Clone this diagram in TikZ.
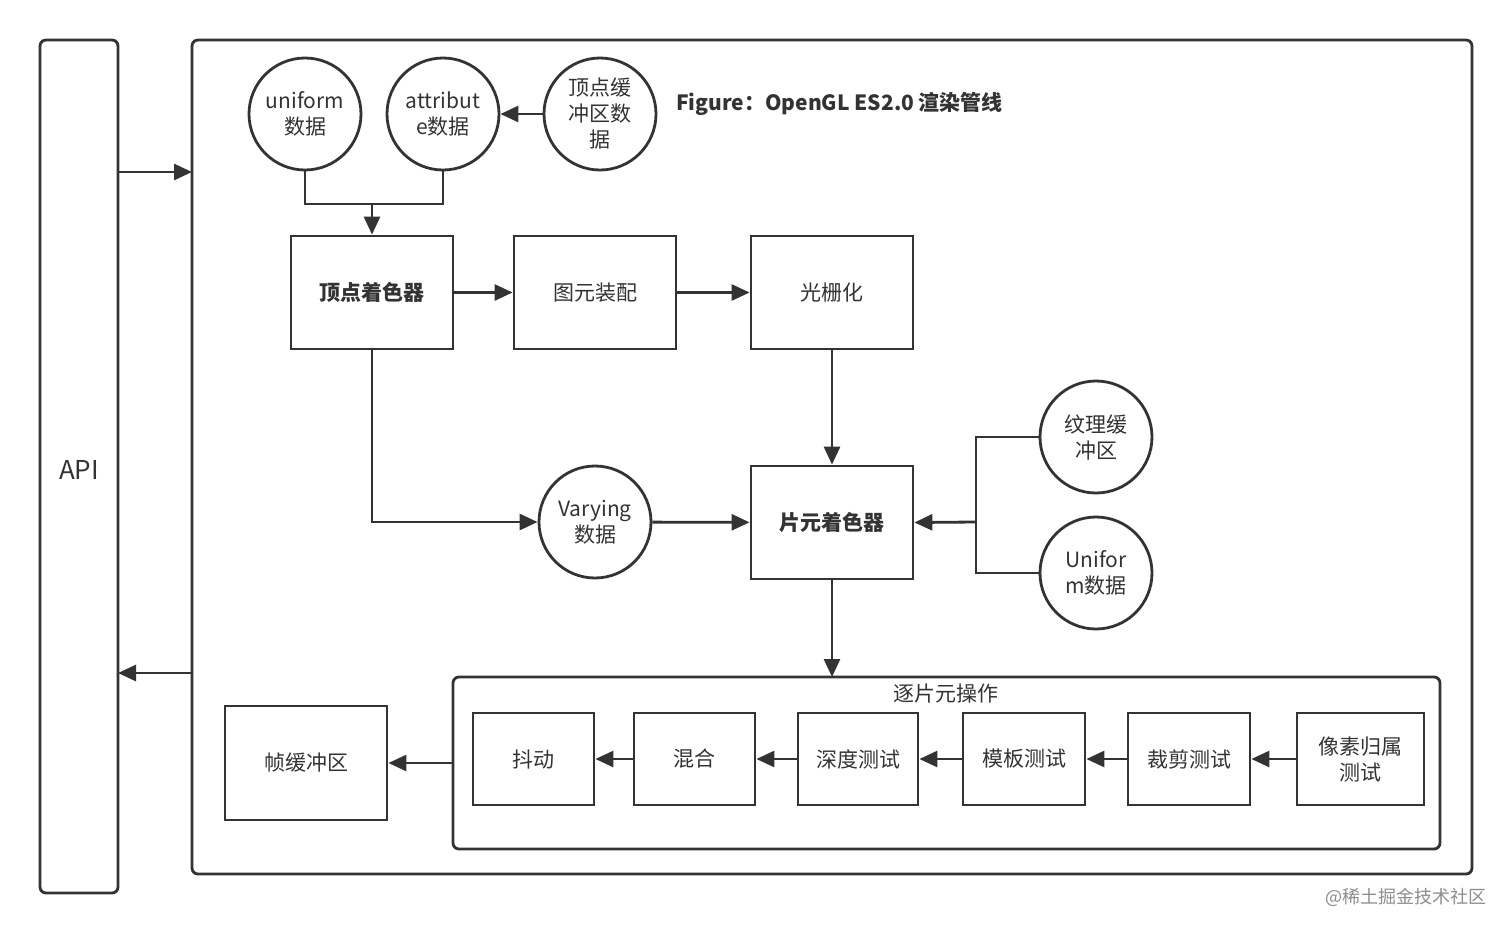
\documentclass[tikz,border=0pt]{standalone}
\usepackage{fontspec}
\setmainfont{Noto Sans CJK SC}
\usetikzlibrary{arrows.meta}
\definecolor{ln}{HTML}{333333}
\begin{document}
\begin{tikzpicture}[x=0.5pt,y=-0.5pt,line width=1.4pt,draw=ln,
  box/.style={draw=ln,line width=1.4pt,font=\fontsize{10.5}{12}\selectfont,text=ln},
  circ/.style={draw=ln,circle,line width=1.4pt,minimum size=56pt,inner sep=0pt,align=center,font=\fontsize{10.5}{13}\selectfont,text=ln},
  arr/.style={draw=ln,-{Triangle[length=9pt,width=8pt]},line width=1.4pt}]
\path[use as bounding box] (0,0) rectangle (1512,933);
\draw[draw=ln,rounded corners=3pt] (40,40) rectangle (118,893);
\node[font=\fontsize{13}{15}\selectfont,text=ln] (api) at (79,470) {API};
\draw[draw=ln,rounded corners=3pt] (192,40) rectangle (1472,874);
\coordinate (a1) at (118,172); \coordinate (a2) at (192,172);
\coordinate (b1) at (192,673); \coordinate (b2) at (118,673);
\draw[arr] (a1) -- (a2);
\draw[arr] (b1) -- (b2);
\node[circ] (uni) at (305,114) {uniform\\数据};
\node[circ] (att) at (443,114) {attribut\\e数据};
\node[circ] (vbuf) at (600,114) {顶点缓\\冲区数\\据};
\draw[arr] (vbuf) -- (att);
\node[anchor=west,font=\fontsize{10.5}{12}\selectfont\bfseries,text=ln] (title) at (668,104) {Figure：OpenGL ES2.0 渲染管线};
\node[box,minimum width=81pt,minimum height=56.5pt,font=\fontsize{10.5}{12}\selectfont\bfseries] (vs) at (372,292.5) {顶点着色器};
\node[box,minimum width=81pt,minimum height=56.5pt] (prim) at (595,292.5) {图元装配};
\node[box,minimum width=81pt,minimum height=56.5pt] (rast) at (832,292.5) {光栅化};
\coordinate (j) at (372,204);
\draw[draw=ln] (uni.south) |- (j) -| (att.south);
\draw[arr] (j) -- (vs.north);
\draw[arr] (vs) -- (prim);
\draw[arr] (prim) -- (rast);
\node[circ] (var) at (595,522) {Varying\\数据};
\node[box,minimum width=81pt,minimum height=56.5pt,font=\fontsize{10.5}{12}\selectfont\bfseries] (fs) at (832,522.5) {片元着色器};
\node[circ] (tex) at (1096,437) {纹理缓\\冲区};
\node[circ] (ud) at (1096,573) {Unifor\\m数据};
\draw[arr] (rast) -- (fs);
\draw[arr] (vs.south) |- (var.west);
\draw[arr] (var) -- (fs);
\coordinate (k) at (976,522);
\draw[draw=ln] (tex.west) -| (k) |- (ud.west);
\draw[arr] (k) -- (fs.east);
\draw[draw=ln,rounded corners=3pt] (453,677) rectangle (1440,849);
\node[font=\fontsize{10.5}{12}\selectfont,text=ln] (op) at (946,694) {逐片元操作};
\coordinate (opt) at (832,677);
\draw[arr] (fs.south) -- (opt);
\node[box,minimum width=60.5pt,minimum height=46pt] (d) at (533.5,759) {抖动};
\node[box,minimum width=60.5pt,minimum height=46pt] (m) at (694.5,759) {混合};
\node[box,minimum width=60pt,minimum height=46pt] (dt) at (858,759) {深度测试};
\node[box,minimum width=61pt,minimum height=46pt] (st) at (1024,759) {模板测试};
\node[box,minimum width=61pt,minimum height=46pt] (ct) at (1189,759) {裁剪测试};
\node[box,minimum width=63.5pt,minimum height=46pt,align=center,font=\fontsize{10.5}{13}\selectfont] (pt) at (1360.5,759) {像素归属\\测试};
\draw[arr] (pt) -- (ct); \draw[arr] (ct) -- (st); \draw[arr] (st) -- (dt);
\draw[arr] (dt) -- (m); \draw[arr] (m) -- (d);
\node[box,minimum width=81pt,minimum height=57pt] (fb) at (306,763) {帧缓冲区};
\coordinate (oe) at (453,763);
\draw[arr] (oe) -- (fb.east);
\node[font=\fontsize{9}{11}\selectfont,text=black!45] (wm) at (1406,897) {@稀土掘金技术社区};
\end{tikzpicture}
\end{document}
